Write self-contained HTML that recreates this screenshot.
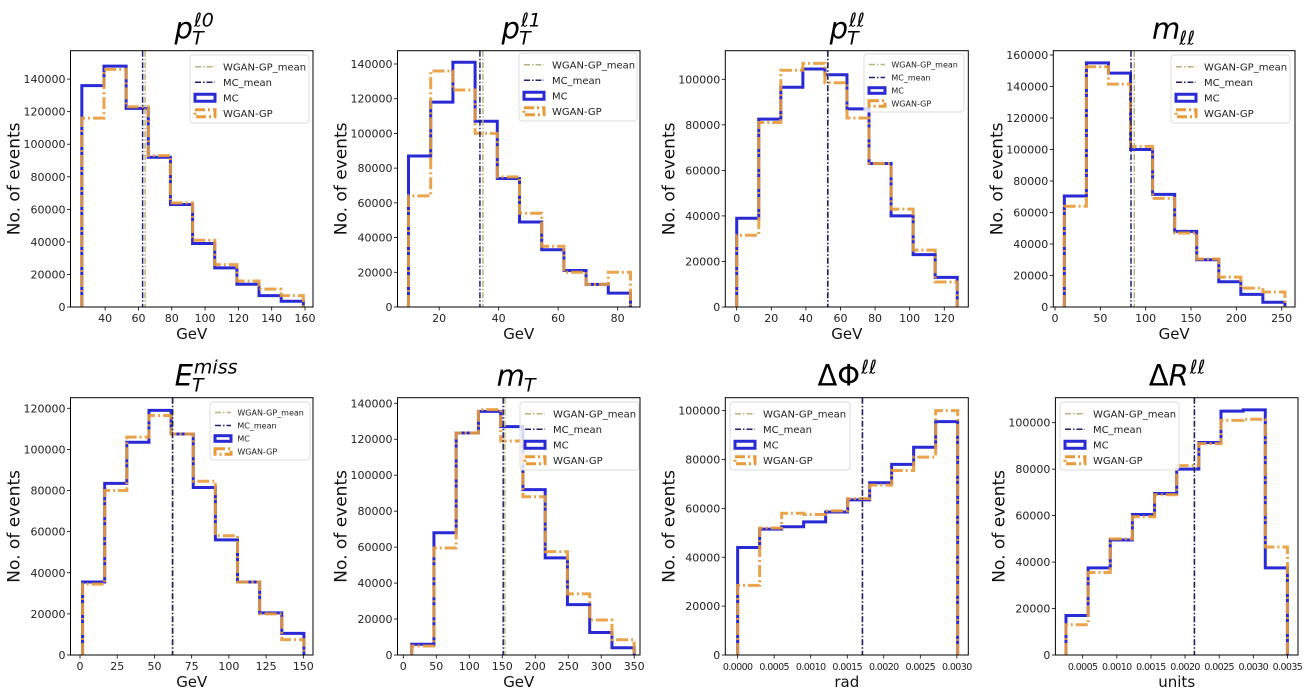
<!DOCTYPE html>
<html><head><meta charset="utf-8"><style>
html,body{margin:0;padding:0;background:#fff;}
svg{display:block;font-family:"DejaVu Sans","Liberation Sans",sans-serif;}
</style></head><body>
<svg id="fig" width="1307" height="698" viewBox="0 0 1307 698" xmlns="http://www.w3.org/2000/svg"></svg>
<script>
// ---- data (values in thousands of events) ----
const p1Edges=[26,159], p1Mc=[136,148,122,92,63,39,24,14,7,3.5], p1Gan=[116,146,123,93,64,41,26,16,11,7], p1Means=[62.5,64];
const p2Edges=[9.7,84.3], p2Mc=[87,118,141,107,74,49,33,21,13,8], p2Gan=[64,136,125,100,75,54,35,20,13,20], p2Means=[33.7,34.7];
const p3Edges=[0,127.5], p3Mc=[39,82.5,96.5,104.5,102,87,63,40,23,13], p3Gan=[31.5,81,104,107,98.5,83,63,43,25,11], p3Means=[52.6,52.9];
const p4Edges=[10.3,253.6], p4Mc=[70.5,155,148.5,100,71.5,48,30,16,8,3], p4Gan=[64,152.5,141.5,102,69,47,30.5,19,12,9.5], p4Means=[83.8,87.4];
const p5Edges=[1.7,150.4], p5Mc=[35.5,83.5,103.5,119,107.5,81.5,56,35.5,20.5,10.5], p5Gan=[34.5,80,106,116.5,107.5,84.5,58,35.5,20,7.5], p5Means=[62.1,62.5];
const p6Edges=[12.7,350], p6Mc=[6,68,123.5,135.5,127,92,54,28,12.5,4], p6Gan=[5,59.5,123.5,136.5,119,88,57.5,34,19.5,8.5], p6Means=[151.4,154];
const p7Edges=[0,0.003011], p7Mc=[44,51.5,52.5,54.5,58.5,63.5,70.5,78,85,95.5], p7Gan=[28.5,52,58,57.5,59,64,69.5,75.5,81,100], p7Means=[0.001707,0.001712];
const p8Edges=[0.000255,0.0035], p8Mc=[17,37.5,49.5,60.5,69.5,80,91.5,105,105.5,37.5], p8Gan=[13,35.5,50,59.5,69,81.5,91,101,101.5,46.5], p8Means=[0.002136,0.00214];
const p1X=[40,60,80,100,120,140,160], p2X=[20,40,60,80], p3X=[0,20,40,60,80,100,120], p4X=[0,50,100,150,200,250];
const p5X=[0,25,50,75,100,125,150], p6X=[0,50,100,150,200,250,300,350];
const p7X=[0,0.0005,0.001,0.0015,0.002,0.0025,0.003], p8X=[0.0005,0.001,0.0015,0.002,0.0025,0.003,0.0035];
const p1Y=[0,20,40,60,80,100,120,140], p3Y=[0,20,40,60,80,100], p4Y=[0,20,40,60,80,100,120,140,160], p5Y=[0,20,40,60,80,100,120];

const NS="http://www.w3.org/2000/svg";
const fig=document.getElementById('fig');
function el(tag,attrs,parent,text){const e=document.createElementNS(NS,tag);for(const k in attrs)e.setAttribute(k,attrs[k]);if(text!==undefined)e.textContent=text;(parent||fig).appendChild(e);return e;}

const R1=[50.7,307], R2=[397.7,655];
const panels=[
 {id:'pt-l0',bx:[70.5,313],by:R1,xl:[19.2,164.8],yl:157.45,ed:p1Edges,mc:p1Mc,gan:p1Gan,mn:p1Means,xt:p1X,dec:0,yt:p1Y,t:['','p','ℓ0','T'],xlab:'GeV',lg:[190,55,119,10]},
 {id:'pt-l1',bx:[397.5,640],by:R1,xl:[6,87.5],yl:147.66,ed:p2Edges,mc:p2Mc,gan:p2Gan,mn:p2Means,xt:p2X,dec:0,yt:p1Y,t:['','p','ℓ1','T'],xlab:'GeV',lg:[519,53,118,10]},
 {id:'pt-ll',bx:[725.3,968.3],by:R1,xl:[-6.6,133.9],yl:112.56,ed:p3Edges,mc:p3Mc,gan:p3Gan,mn:p3Means,xt:p3X,dec:0,yt:p3Y,t:['','p','ℓℓ','T'],xlab:'GeV',lg:[864,54,100,8]},
 {id:'m-ll',bx:[1053.3,1295],by:R1,xl:[-1.9,264.7],yl:162.73,ed:p4Edges,mc:p4Mc,gan:p4Gan,mn:p4Means,xt:p4X,dec:0,yt:p4Y,t:['','m','','ℓℓ'],xlab:'GeV',lg:[1171,55,119,10]},
 {id:'et-miss',bx:[70.5,313],by:R2,xl:[-6.4,156.5],yl:125.15,ed:p5Edges,mc:p5Mc,gan:p5Gan,mn:p5Means,xt:p5X,dec:0,yt:p5Y,t:['','E','miss','T'],xlab:'GeV',lg:[210,402,100,8]},
 {id:'m-t',bx:[397.5,640],by:R2,xl:[-8.8,358.8],yl:143.1,ed:p6Edges,mc:p6Mc,gan:p6Gan,mn:p6Means,xt:p6X,dec:0,yt:p1Y,t:['','m','','T'],xlab:'GeV',lg:[520,402,119,10]},
 {id:'delta-phi-ll',bx:[725.3,968.3],by:R2,xl:[-0.000169,0.003157],yl:105.3,ed:p7Edges,mc:p7Mc,gan:p7Gan,mn:p7Means,xt:p7X,dec:4,yt:p3Y,t:['ΔΦ','','ℓℓ',''],xlab:'rad',lg:[730,402,120,10]},
 {id:'delta-r-ll',bx:[1055.4,1298],by:R2,xl:[0.0001,0.003655],yl:110.76,ed:p8Edges,mc:p8Mc,gan:p8Gan,mn:p8Means,xt:p8X,dec:4,yt:p3Y,t:['Δ','R','ℓℓ',''],xlab:'units',lg:[1060,402,119,10]}
];

const BLUE='#2a2ad4', ORANGE='#e89a3a', NAVY='#20206e', TAN='#b9b27e';

panels.forEach(function(P){
  const g=el('g',{});
  
  
  const x0=P.bx[0],x1=P.bx[1],y0=P.by[0],y1=P.by[1];
  const sx=v=>x0+(v-P.xl[0])/(P.xl[1]-P.xl[0])*(x1-x0);
  const sy=v=>y1-v/(P.yl*1000)*(y1-y0);
  const n=P.mc.length, w=(P.ed[1]-P.ed[0])/n;
  function stepPath(vals){
    let d='M'+sx(P.ed[0])+','+sy(0);
    vals.forEach(function(v,i){d+=' L'+sx(P.ed[0]+i*w)+','+sy(v*1000)+' L'+sx(P.ed[0]+(i+1)*w)+','+sy(v*1000);});
    d+=' L'+sx(P.ed[1])+','+sy(0);
    return d;
  }
  const mcP=el('path',{d:stepPath(P.mc),fill:'none',stroke:BLUE,'stroke-width':3},g);
  
  
  const gP=el('path',{d:stepPath(P.gan),fill:'none',stroke:ORANGE,'stroke-width':3,'stroke-dasharray':'12,3,2,3','opacity':0.9},g);
  
  
  const gm=el('line',{x1:sx(P.mn[1]),x2:sx(P.mn[1]),y1:y0,y2:y1,stroke:TAN,'stroke-width':1.5,'stroke-dasharray':'6,2,1.5,2'},g);
  
  
  const mm=el('line',{x1:sx(P.mn[0]),x2:sx(P.mn[0]),y1:y0,y2:y1,stroke:NAVY,'stroke-width':1.5,'stroke-dasharray':'6,2,1.5,2'},g);
  
  
  const fr=el('rect',{x:x0,y:y0,width:x1-x0,height:y1-y0,fill:'none',stroke:'#000','stroke-width':1},g);
  
  
  P.xt.forEach(function(v){
    const x=sx(v);
    el('line',{x1:x,x2:x,y1:y1,y2:y1+3.5,stroke:'#000','stroke-width':0.8},g);
    const attrs={x:x,y:y1+15,'font-size':P.dec?9.5:11,'text-anchor':'middle',fill:'#222'};
    if(P.dec) attrs['letter-spacing']='-0.6';
    const t=el('text',attrs,g,v.toFixed(P.dec));
    
    
  });
  P.yt.forEach(function(v){
    const y=sy(v*1000);
    el('line',{x1:x0-3.5,x2:x0,y1:y,y2:y,stroke:'#000','stroke-width':0.8},g);
    const t=el('text',{x:x0-5,y:y+4,'font-size':11,'text-anchor':'end',fill:'#222'},g,String(v*1000));
    
    
  });
  const xl=el('text',{x:(x0+x1)/2,y:y1+32,'font-size':15,'text-anchor':'middle',fill:'#111'},g,P.xlab);
  
  
  const yc=(y0+y1)/2, yx=x0-51;
  const yl=el('text',{x:yx,y:yc,'font-size':17,'text-anchor':'middle',fill:'#111',transform:'rotate(-90 '+yx+' '+yc+')'},g,'No. of events');
  
  
  // title
  const cx=(x0+x1)/2, ty=y0-12;
  const tg=el('g',{},g);
  
  
  const base=el('text',{x:cx-8,y:ty,'font-size':29,'text-anchor':'middle',fill:'#000'},tg);
  if(P.t[0]) el('tspan',{},base,P.t[0]);
  if(P.t[1]) el('tspan',{'font-style':'italic'},base,P.t[1]);
  const bw=base.getComputedTextLength?base.getComputedTextLength():20;
  const rx=cx-8+bw/2+1;
  if(P.t[2]) el('text',{x:rx,y:ty-12,'font-size':19,'font-style':'italic',fill:'#000'},tg,P.t[2]);
  if(P.t[3]) el('text',{x:rx-2,y:ty+6,'font-size':19,'font-style':'italic',fill:'#000'},tg,P.t[3]);
  // legend
  const L=P.lg, lx=L[0], ly=L[1], lw=L[2], fs=L[3], rh=(fs>9?15.5:13), lh=rh*4+6;
  const lgG=el('g',{},g);
  
  
  el('rect',{x:lx,y:ly,width:lw,height:lh,rx:3,fill:'#fff','fill-opacity':0.8,stroke:'#ddd','stroke-width':1},lgG);
  const labels=['WGAN-GP_mean','MC_mean','MC','WGAN-GP'];
  const hx=lx+5, hw=fs*2;
  labels.forEach(function(lab,i){
    const cy=ly+4+rh*i+rh/2;
    const eg=el('g',{},lgG);
    
    
    if(i===0) el('line',{x1:hx,x2:hx+hw,y1:cy,y2:cy,stroke:TAN,'stroke-width':1.5,'stroke-dasharray':'6,2,1.5,2'},eg);
    if(i===1) el('line',{x1:hx,x2:hx+hw,y1:cy,y2:cy,stroke:NAVY,'stroke-width':1.5,'stroke-dasharray':'6,2,1.5,2'},eg);
    if(i===2) el('rect',{x:hx,y:cy-fs*0.35,width:hw,height:fs*0.7,fill:'none',stroke:BLUE,'stroke-width':3},eg);
    if(i===3) el('rect',{x:hx,y:cy-fs*0.35,width:hw,height:fs*0.7,fill:'none',stroke:ORANGE,'stroke-width':3,'stroke-dasharray':'10,3,2,3'},eg);
    el('text',{x:hx+hw+fs*0.8,y:cy+fs*0.36,'font-size':fs,fill:'#222'},eg,lab);
  });
});
</script>
</body></html>
